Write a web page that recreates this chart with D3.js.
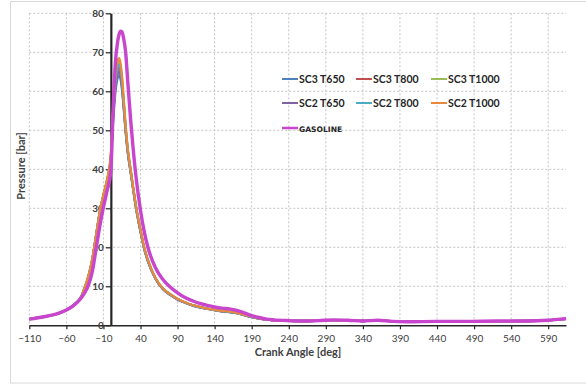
<!DOCTYPE html>
<html>
<head>
<meta charset="utf-8">
<script src="https://cdn.jsdelivr.net/npm/d3@7"></script>
<style>
  body { margin: 0; background: #fff; }
  text { font-family: Lato, 'Open Sans', sans-serif; }
</style>
</head>
<body>
<div id="grafico"></div>
<script>
const angles = [-110, -90, -70, -60, -50, -40, -35, -30, -25, -20, -15, -10, -5, 0, 3, 6, 9, 11, 13, 15,
                17, 20, 23, 27, 30, 34, 40, 45, 50, 60, 70, 80, 90, 100, 110, 120, 130, 140, 150, 160,
                170, 180, 190, 200, 210, 220, 240, 260, 280, 300, 320, 340, 360, 380, 400, 440, 480, 520, 560, 590, 614]

const sc3T650 = [1.6, 2.2, 3.1, 3.9, 5.2, 7.3, 9.7, 12.6, 16.8, 22.8, 28.8, 33.2, 37, 42, 52, 59.5, 63.3, 64, 63.2, 60.5,
                 56.5, 49.5, 44, 38.8, 35, 30, 24, 19.6, 16.4, 12, 9.3, 7.8, 6.6, 5.8, 5.1, 4.6, 4.2, 3.9, 3.6, 3.4,
                 3.1, 2.6, 2.1, 1.7, 1.45, 1.3, 1.15, 1.1, 1.2, 1.35, 1.25, 1.1, 1.25, 1.0, 0.9, 1.0, 1.0, 1.05, 1.1, 1.3, 1.65]
const sc3T800 = [1.6, 2.2, 3.1, 3.9, 5.2, 7.3, 9.7, 12.7, 16.9, 22.9, 28.9, 33.3, 37.2, 43, 53.5, 61.5, 65.3, 66, 65, 62,
                 57.5, 50.2, 44.5, 39.2, 35.2, 30.2, 24.2, 19.8, 16.6, 12.1, 9.4, 7.9, 6.7, 5.85, 5.15, 4.65, 4.25, 3.9, 3.65, 3.45,
                 3.15, 2.65, 2.15, 1.75, 1.5, 1.3, 1.15, 1.1, 1.2, 1.35, 1.25, 1.1, 1.25, 1.0, 0.9, 1.0, 1.0, 1.05, 1.1, 1.3, 1.65]
const sc3T1000 = [1.6, 2.2, 3.1, 3.9, 5.2, 7.3, 9.8, 12.8, 17, 23, 29, 33.4, 37.3, 43.5, 54.5, 62.8, 66.8, 67.5, 66.4, 63.2,
                  58.3, 50.7, 44.8, 39.4, 35.4, 30.4, 24.4, 19.9, 16.7, 12.2, 9.5, 8.0, 6.8, 5.9, 5.2, 4.7, 4.3, 3.95, 3.7, 3.5,
                  3.2, 2.7, 2.2, 1.8, 1.5, 1.3, 1.15, 1.1, 1.2, 1.35, 1.25, 1.1, 1.25, 1.0, 0.9, 1.0, 1.0, 1.05, 1.1, 1.3, 1.65]
const sc2T650 = [1.6, 2.2, 3.1, 3.9, 5.2, 7.3, 9.7, 12.6, 16.8, 22.8, 28.8, 33.2, 37.1, 42.5, 52.8, 60.5, 64.3, 65, 64.1, 61.2,
                 57, 49.8, 44.2, 39, 35.1, 30.1, 24.1, 19.7, 16.5, 12.05, 9.35, 7.85, 6.65, 5.8, 5.1, 4.6, 4.2, 3.9, 3.6, 3.4,
                 3.1, 2.6, 2.1, 1.7, 1.45, 1.3, 1.15, 1.1, 1.2, 1.35, 1.25, 1.1, 1.25, 1.0, 0.9, 1.0, 1.0, 1.05, 1.1, 1.3, 1.65]
const sc2T800 = [1.6, 2.2, 3.1, 3.9, 5.2, 7.3, 9.8, 12.7, 16.9, 22.9, 28.9, 33.3, 37.2, 43.2, 54, 62.2, 66.1, 66.8, 65.7, 62.6,
                 57.9, 50.5, 44.6, 39.3, 35.3, 30.3, 24.3, 19.8, 16.6, 12.1, 9.45, 7.95, 6.75, 5.85, 5.15, 4.65, 4.25, 3.9, 3.65, 3.45,
                 3.15, 2.65, 2.15, 1.75, 1.5, 1.3, 1.15, 1.1, 1.2, 1.35, 1.25, 1.1, 1.25, 1.0, 0.9, 1.0, 1.0, 1.05, 1.1, 1.3, 1.65]
const sc2T1000 = [1.6, 2.2, 3.1, 3.9, 5.2, 7.3, 9.8, 12.8, 17, 23, 29, 33.5, 37.5, 44, 55, 63.5, 67.8, 68.5, 67.3, 64,
                  59, 51, 45, 39.5, 35.5, 30.5, 24.5, 20, 16.8, 12.2, 9.5, 8.0, 6.8, 5.9, 5.2, 4.7, 4.3, 3.95, 3.7, 3.5,
                  3.2, 2.7, 2.2, 1.8, 1.5, 1.3, 1.15, 1.1, 1.2, 1.35, 1.25, 1.1, 1.25, 1.0, 0.9, 1.0, 1.0, 1.05, 1.1, 1.3, 1.65]
const gasoline = [1.6, 2.2, 3.1, 3.9, 5.1, 7.0, 8.4, 10.4, 13.8, 19.5, 25.3, 30.3, 34.5, 39.5, 55, 67, 72.5, 74.5, 75.4, 75.3,
                  73.8, 70, 62, 52, 45.5, 38, 29.5, 24, 20, 14.8, 11.8, 9.8, 8.3, 7.1, 6.3, 5.6, 5.1, 4.7, 4.4, 4.2,
                  3.8, 3.2, 2.5, 2.0, 1.6, 1.4, 1.2, 1.1, 1.2, 1.4, 1.3, 1.1, 1.3, 1.0, 0.9, 1.0, 1.0, 1.1, 1.1, 1.3, 1.7]

const seriesNames = ['SC3 T650', 'SC3 T800', 'SC3 T1000', 'SC2 T650', 'SC2 T800', 'SC2 T1000', 'GASOLINE']
const seriesValues = [sc3T650, sc3T800, sc3T1000, sc2T650, sc2T800, sc2T1000, gasoline]
const colors = ['#4F81BD', '#C0504D', '#9BBB59', '#8064A2', '#4BACC6', '#E8893C', '#C845CE']

const xTicks = d3.range(-110, 600, 50)
const yTicks = d3.range(0, 81, 10)

const width = 586
const height = 386

const svg = d3.select('#grafico')
              .append('svg')
              .attr('width', width)
              .attr('height', height)

svg.append('rect')
   .attr('x', 10.5)
   .attr('y', 1.5)
   .attr('width', 600)
   .attr('height', 381.5)
   .style('fill', 'none')
   .style('stroke', '#D9D9D9')

const x = d3.scaleLinear().domain([-110, 614]).range([29.3, 566])
const y = d3.scaleLinear().domain([0, 80]).range([325.3, 13.3])

// gridlines
svg.append('g')
   .selectAll('line')
   .data(xTicks)
   .enter()
   .append('line')
   .attr('x1', d => x(d))
   .attr('x2', d => x(d))
   .attr('y1', y(80))
   .attr('y2', y(0))
   .style('stroke', '#C4C4C4')
   .style('stroke-dasharray', '2,2')

svg.append('g')
   .selectAll('line')
   .data(yTicks.filter(d => d > 0))
   .enter()
   .append('line')
   .attr('x1', x(-110))
   .attr('x2', x(614))
   .attr('y1', d => y(d))
   .attr('y2', d => y(d))
   .style('stroke', '#C4C4C4')
   .style('stroke-dasharray', '2,2')

// axes
const xAxis = svg.append('g')
                 .attr('transform', `translate(0, ${y(0)})`)
                 .call(d3.axisBottom(x).tickValues(xTicks).tickSize(4).tickPadding(6).tickSizeOuter(0))
xAxis.select('.domain').style('stroke', '#262626').style('stroke-width', 1.6)
xAxis.selectAll('.tick line').style('stroke', '#262626').style('stroke-width', 1.2)
xAxis.selectAll('text')
     .style('font-family', 'Lato, sans-serif')
     .style('font-size', '10px')
     .style('fill', '#404040')

const yAxis = svg.append('g')
                 .attr('transform', `translate(${x(0)}, 0)`)
                 .call(d3.axisLeft(y).tickValues(yTicks).tickSize(5).tickPadding(2).tickSizeOuter(0))
yAxis.select('.domain').style('stroke', '#262626').style('stroke-width', 2.2)
yAxis.selectAll('.tick line').style('stroke', '#262626').style('stroke-width', 1.2)
yAxis.selectAll('text')
     .style('font-family', 'Lato, sans-serif')
     .style('font-size', '10px')
     .style('font-weight', 'bold')
     .style('fill', '#404040')

// curves
const line = d3.line()
               .x((d, i) => x(angles[i]))
               .y(d => y(d))
               .curve(d3.curveMonotoneX)

svg.append('g')
   .selectAll('path')
   .data(seriesValues)
   .enter()
   .append('path')
   .attr('d', d => line(d))
   .style('fill', 'none')
   .style('stroke', (d, i) => colors[i])
   .style('stroke-width', (d, i) => i === 6 ? 3.4 : 2.3)

// axis titles
svg.append('text')
   .attr('x', 298)
   .attr('y', 356)
   .attr('text-anchor', 'middle')
   .style('font-size', '11px')
   .style('font-weight', 'bold')
   .style('fill', '#404040')
   .text('Crank Angle [deg]')

svg.append('text')
   .attr('transform', 'translate(25, 166) rotate(-90)')
   .attr('text-anchor', 'middle')
   .style('font-size', '11px')
   .style('font-weight', 'bold')
   .style('fill', '#404040')
   .text('Pressure [bar]')

// legend
const legendX = [282, 356, 431]
const legendY = [79, 103, 128]

const legend = svg.append('g')
                  .selectAll('g')
                  .data(seriesNames)
                  .enter()
                  .append('g')
                  .attr('transform', (d, i) => `translate(${legendX[i % 3]}, ${legendY[Math.floor(i / 3)]})`)

legend.append('line')
      .attr('x1', 0)
      .attr('x2', 16)
      .attr('y1', 0)
      .attr('y2', 0)
      .style('stroke', (d, i) => colors[i])
      .style('stroke-width', (d, i) => i === 6 ? 2.5 : 2)

legend.append('text')
      .attr('x', 17)
      .attr('y', 3.6)
      .style('font-family', (d, i) => i === 6 ? "'DejaVu Sans', sans-serif" : 'Lato, sans-serif')
      .style('font-size', (d, i) => i === 6 ? '7.6px' : '10.5px')
      .style('font-weight', 'bold')
      .style('fill', '#262626')
      .text(d => d)
</script>
</body>
</html>
